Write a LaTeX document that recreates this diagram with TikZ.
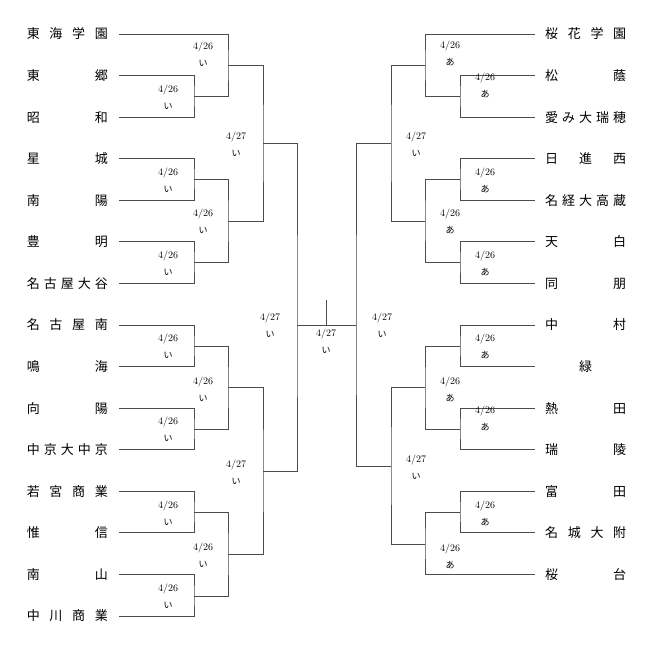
\documentclass[tikz,border=0pt]{standalone}
\usepackage{fontspec}
\newfontfamily\jp{Noto Sans CJK JP}
\newcommand{\kana}[1]{{\jp\fontsize{9}{17}\selectfont #1}}
\tikzset{
  team/.style={inner xsep=11pt, inner ysep=0pt, font=\jp\fontsize{13}{13}\selectfont},
  br/.style={draw=black!70, line width=0.8pt},
  gm/.style={align=center, inner sep=0pt, font=\fontsize{10}{17}\selectfont},
}

\begin{document}
\begin{tikzpicture}[x=1pt, y=-1pt]
    \useasboundingbox (0,0) rectangle (654,651);

    % teams, left and right
    \foreach \t [count=\i] in {東\hfill 海\hfill 学\hfill 園,東\hfill 郷,昭\hfill 和,星\hfill 城,
        南\hfill 陽,豊\hfill 明,名\hfill 古\hfill 屋\hfill 大\hfill 谷,名\hfill 古\hfill 屋\hfill 南,
        鳴\hfill 海,向\hfill 陽,中\hfill 京\hfill 大\hfill 中\hfill 京,若\hfill 宮\hfill 商\hfill 業,
        惟\hfill 信,南\hfill 山,中\hfill 川\hfill 商\hfill 業}
        \node[team, anchor=east] (L\i) at (119, {34+(\i-1)*41.57}) {\makebox[81pt]{\ignorespaces\t}};
    \foreach \t [count=\i] in {桜\hfill 花\hfill 学\hfill 園,松\hfill 蔭,愛\hfill み\hfill 大\hfill 瑞\hfill 穂,
        日\hfill 進\hfill 西,名\hfill 経\hfill 大\hfill 高\hfill 蔵,天\hfill 白,同\hfill 朋,中\hfill 村,
        \hfill 緑\hfill,熱\hfill 田,瑞\hfill 陵,富\hfill 田,名\hfill 城\hfill 大\hfill 附,桜\hfill 台}
        \node[team, anchor=west, inner xsep=10pt] (R\i) at (535, {34+(\i-1)*41.57}) {\makebox[81pt]{\ignorespaces\t}};

    % match points
    \coordinate (a1) at (194,96);   \coordinate (a2) at (228,65);
    \coordinate (a3) at (194,179);  \coordinate (a4) at (194,262);
    \coordinate (a5) at (228,221);  \coordinate (a6) at (263,143);
    \coordinate (a7) at (194,346);  \coordinate (a8) at (194,429);
    \coordinate (a9) at (228,387);  \coordinate (a10) at (194,512);
    \coordinate (a11) at (194,596); \coordinate (a12) at (228,554);
    \coordinate (a13) at (263,471);
    \coordinate (b1) at (460,96);   \coordinate (b2) at (425,65);
    \coordinate (b3) at (460,179);  \coordinate (b4) at (460,262);
    \coordinate (b5) at (425,221);  \coordinate (b6) at (391,143);
    \coordinate (b7) at (460,346);  \coordinate (b8) at (460,429);
    \coordinate (b9) at (425,387);  \coordinate (b10) at (460,512);
    \coordinate (b11) at (425,544); \coordinate (b12) at (391,466);
    \coordinate (fL) at (297,325);  \coordinate (fR) at (356,325);
    \coordinate (fC) at (326,325);  \coordinate (top) at (326,300);

    % left bracket
    \draw[br] (L2.east) -| (a1) |- (L3.east);
    \draw[br] (L1.east) -| (a2) |- (a1);
    \draw[br] (L4.east) -| (a3) |- (L5.east);
    \draw[br] (L6.east) -| (a4) |- (L7.east);
    \draw[br] (a3) -| (a5) |- (a4);
    \draw[br] (a2) -| (a6) |- (a5);
    \draw[br] (L8.east) -| (a7) |- (L9.east);
    \draw[br] (L10.east) -| (a8) |- (L11.east);
    \draw[br] (a7) -| (a9) |- (a8);
    \draw[br] (L12.east) -| (a10) |- (L13.east);
    \draw[br] (L14.east) -| (a11) |- (L15.east);
    \draw[br] (a10) -| (a12) |- (a11);
    \draw[br] (a9) -| (a13) |- (a12);
    \draw[br] (a6) -| (fL) |- (a13);

    % right bracket
    \draw[br] (R2.west) -| (b1) |- (R3.west);
    \draw[br] (R1.west) -| (b2) |- (b1);
    \draw[br] (R4.west) -| (b3) |- (R5.west);
    \draw[br] (R6.west) -| (b4) |- (R7.west);
    \draw[br] (b3) -| (b5) |- (b4);
    \draw[br] (b2) -| (b6) |- (b5);
    \draw[br] (R8.west) -| (b7) |- (R9.west);
    \draw[br] (R10.west) -| (b8) |- (R11.west);
    \draw[br] (b7) -| (b9) |- (b8);
    \draw[br] (R12.west) -| (b10) |- (R13.west);
    \draw[br] (b10) -| (b11) |- (R14.west);
    \draw[br] (b9) -| (b12) |- (b11);
    \draw[br] (b6) -| (fR) |- (b12);

    % final
    \draw[br] (fL) -- (fR);
    \draw[br] (fC) -- (top);

    % dates
    \node[gm] (g1) at (168,97) {4/26\\\kana{い}};
    \node[gm] (g2) at (203,54) {4/26\\\kana{い}};
    \node[gm] (g3) at (168,180) {4/26\\\kana{い}};
    \node[gm] (g4) at (168,263) {4/26\\\kana{い}};
    \node[gm] (g5) at (203,221) {4/26\\\kana{い}};
    \node[gm] (g6) at (236,144) {4/27\\\kana{い}};
    \node[gm] (g7) at (168,346) {4/26\\\kana{い}};
    \node[gm] (g8) at (168,429) {4/26\\\kana{い}};
    \node[gm] (g9) at (203,389) {4/26\\\kana{い}};
    \node[gm] (g10) at (168,513) {4/26\\\kana{い}};
    \node[gm] (g11) at (168,596) {4/26\\\kana{い}};
    \node[gm] (g12) at (203,555) {4/26\\\kana{い}};
    \node[gm] (g13) at (236,472) {4/27\\\kana{い}};
    \node[gm] (g14) at (270,325) {4/27\\\kana{い}};
    \node[gm] (g15) at (326,341) {4/27\\\kana{い}};
    \node[gm] (h1) at (485,85) {4/26\\\kana{あ}};
    \node[gm] (h2) at (450,53) {4/26\\\kana{あ}};
    \node[gm] (h3) at (485,180) {4/26\\\kana{あ}};
    \node[gm] (h4) at (485,263) {4/26\\\kana{あ}};
    \node[gm] (h5) at (450,221) {4/26\\\kana{あ}};
    \node[gm] (h6) at (416,144) {4/27\\\kana{い}};
    \node[gm] (h7) at (485,346) {4/26\\\kana{あ}};
    \node[gm] (h8) at (485,418) {4/26\\\kana{あ}};
    \node[gm] (h9) at (450,389) {4/26\\\kana{あ}};
    \node[gm] (h10) at (485,513) {4/26\\\kana{あ}};
    \node[gm] (h11) at (450,556) {4/26\\\kana{あ}};
    \node[gm] (h12) at (416,467) {4/27\\\kana{い}};
    \node[gm] (h13) at (382,325) {4/27\\\kana{い}};
\end{tikzpicture}
\end{document}
